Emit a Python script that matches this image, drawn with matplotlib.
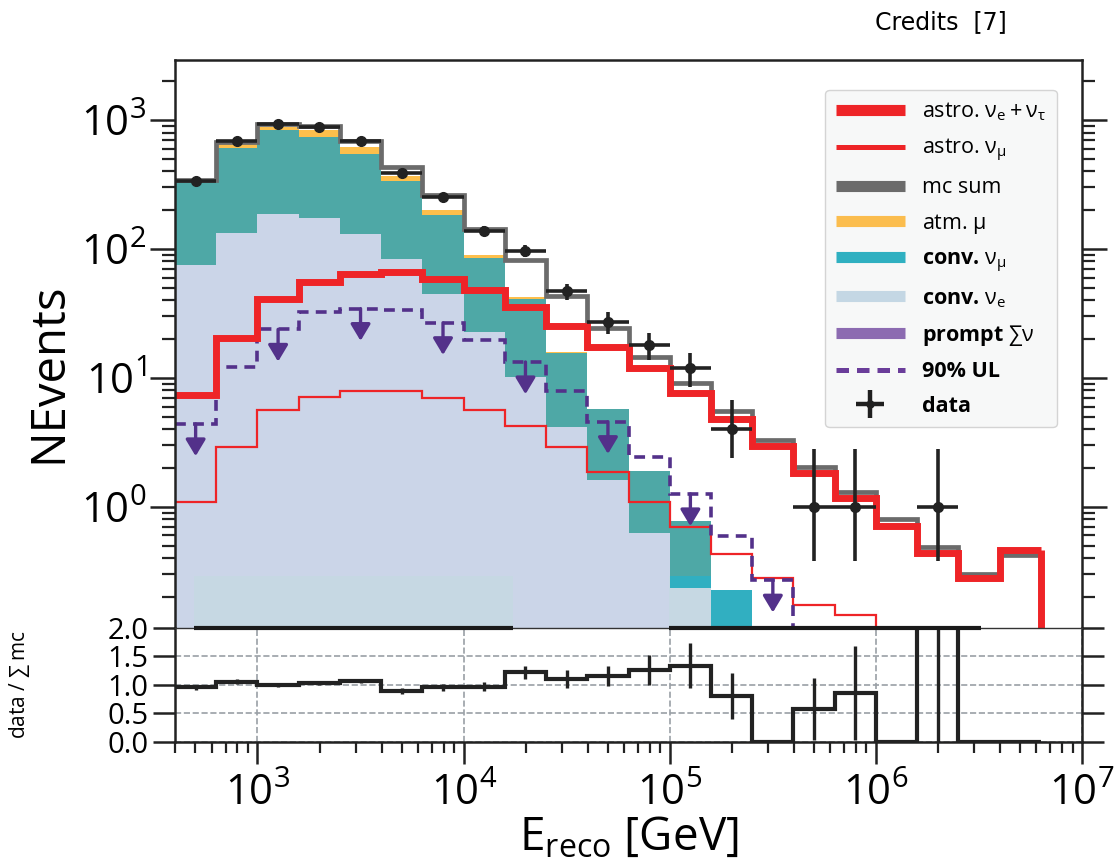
import numpy as np
import matplotlib
matplotlib.use('Agg')
import matplotlib.pyplot as plt
from matplotlib.lines import Line2D
from matplotlib.patches import Rectangle

plt.rcParams['font.family'] = ['Open Sans', 'DejaVu Sans']
plt.rcParams['mathtext.fontset'] = 'custom'
plt.rcParams['mathtext.rm'] = 'Open Sans'
plt.rcParams['mathtext.it'] = 'Open Sans:italic'
plt.rcParams['mathtext.bf'] = 'Open Sans:bold'

# log10 of the reconstructed-energy bin edges (GeV)
log_edges = np.array([2.6, 2.8, 3.0, 3.2, 3.4, 3.6, 3.8, 4.0, 4.2, 4.4, 4.6,
                      4.8, 5.0, 5.2, 5.4, 5.6, 5.8, 6.0, 6.2, 6.4, 6.6, 6.8])

# per-bin expectations
conv_nue = [75, 134, 186, 173, 130, 83, 45, 22.6, 10.2, 4.15, 1.62, 0.63, 0.234,
            0, 0, 0, 0, 0, 0, 0, 0]
conv_numu = [260, 469, 650, 569, 412, 256, 138, 62, 30.5, 11.5, 4.1, 1.28, 0.54,
             0.227, 0, 0, 0, 0, 0, 0, 0]
atm_mu = [2, 49, 51, 94, 72, 29, 17, 5.3, 1.5, 0.3, 0, 0, 0, 0, 0, 0, 0, 0, 0, 0, 0]
astro_cascade = [7.4, 20.3, 40.7, 55.8, 64, 66, 58, 48.5, 35.7, 25.3, 17.5, 11.9,
                 7.6, 4.8, 2.95, 1.82, 1.17, 0.71, 0.44, 0.28, 0.46]
astro_track = [1.1, 2.93, 5.65, 7.16, 7.93, 7.85, 7.03, 5.65, 4.27, 2.9, 1.88, 1.1,
               0.70, 0.43, 0.28, 0.173, 0.146, 0, 0, 0, 0]
mc_sum = [340, 680, 935, 893, 688, 430, 262, 142, 82, 43, 24.3, 14.6, 9.1, 5.5,
          3.3, 2.02, 1.31, 0.81, 0.49, 0.30, 0.42]
prompt_ul = [4.4, 12.2, 23.8, 32.3, 34.5, 33.7, 26.8, 19.7, 13.3, 7.97, 4.58, 2.45,
             1.26, 0.59, 0.27, 0, 0, 0, 0, 0, 0]
ul_arrow_bins = [0, 2, 4, 6, 8, 10, 12, 14]

# observed events
data_counts = [339, 692, 926, 887, 692, 386, 254, 138, 97, 47, 27, 18, 12, 4, 0,
               1, 1, 0, 1, 0, 0]
data_err_lo = [18, 26, 30, 30, 26, 20, 16, 12, 10, 6.9, 5.2, 4.3, 3.5, 1.6, 0,
               0.62, 0.62, 0, 0.62, 0, 0]
data_err_hi = [18, 26, 30, 30, 26, 20, 16, 12, 10, 6.9, 5.2, 4.3, 3.5, 2.8, 0,
               1.8, 1.8, 0, 1.8, 0, 0]

# data / mc ratio
ratio = [0.96, 1.06, 1.0, 1.03, 1.07, 0.89, 0.96, 0.97, 1.22, 1.10, 1.16, 1.26,
         1.34, 0.81, 0, 0.58, 0.86, 0, 2.04, 0, 0]
ratio_err_lo = [0.04, 0.04, 0.03, 0.035, 0.04, 0.05, 0.06, 0.08, 0.12, 0.16, 0.17,
                0.26, 0.40, 0.40, 0, 0.55, 0.83, 0, 2.04, 0, 0]
ratio_err_hi = [0.04, 0.04, 0.03, 0.035, 0.04, 0.05, 0.06, 0.08, 0.12, 0.16, 0.17,
                0.26, 0.40, 0.40, 0, 0.54, 0.83, 0, 3.0, 0, 0]

# washed-out strips along the bottom of the upper panel (log10 E ranges)
strip_spans = [(2.69, 4.24), (4.995, 6.51)]
strip_top = 0.29

y_bottom, y_top = 0.115, 2920

edges = 10 ** log_edges
centers = 10 ** (0.5 * (log_edges[:-1] + log_edges[1:]))
conv_nue = np.array(conv_nue)
numu_top = conv_nue + np.array(conv_numu)
mu_top = numu_top + np.array(atm_mu)
data = np.array(data_counts, dtype=float)
has_data = data > 0

c_nue = '#cbd5e8'
c_numu = '#4ea8a6'
c_mu = '#fdbf4c'
c_red = '#ee2427'
c_gray = '#6b6b6b'
c_ul = '#53318a'
c_black = '#222222'

fig = plt.figure(figsize=(11.19, 8.65), dpi=100)
ax = fig.add_axes([0.1564, 0.274, 0.8106, 0.6566])
axr = fig.add_axes([0.1564, 0.1422, 0.8106, 0.1318], sharex=ax)

# stacked backgrounds
ax.stairs(conv_nue, edges, baseline=0, fill=True, color=c_nue, lw=0, zorder=1)
ax.stairs(numu_top, edges, baseline=conv_nue, fill=True, color=c_numu, lw=0, zorder=1)
ax.stairs(mu_top, edges, baseline=numu_top, fill=True, color=c_mu, lw=0, zorder=1)

for lo, hi in strip_spans:
    for top, base, col in [(conv_nue, 0, '#c6d8e3'), (numu_top, conv_nue, '#31afc1')]:
        clip = Rectangle((10 ** lo, y_bottom), 10 ** hi - 10 ** lo, strip_top - y_bottom,
                         transform=ax.transData)
        s = ax.stairs(top, edges, baseline=base, fill=True, color=col, lw=0, zorder=1.5)
        s.set_clip_path(clip)
    axr.hlines(2.0, 10 ** lo, 10 ** hi, color='#1a1a1a', lw=3, zorder=6, clip_on=False)

ax.stairs(astro_track, edges, baseline=None, color=c_red, lw=1.6, zorder=3)
ax.stairs(prompt_ul, edges, baseline=None, color=c_ul, lw=2.6, ls=(0, (3, 2)), zorder=3)
for i in ul_arrow_bins:
    ax.annotate('', xy=(centers[i], prompt_ul[i] * 10 ** -0.25),
                xytext=(centers[i], prompt_ul[i]),
                arrowprops=dict(arrowstyle='-|>,head_length=0.5,head_width=0.3',
                                color=c_ul, lw=2.4, mutation_scale=20,
                                shrinkA=0, shrinkB=0), zorder=3)
ax.stairs(mc_sum, edges, baseline=None, color=c_gray, lw=3.4, zorder=4)
ax.stairs(astro_cascade, edges, baseline=None, color=c_red, lw=5, zorder=5)
# closing edge of the last cascade bin
ax.vlines(edges[-1], y_bottom / 2, astro_cascade[-1], color=c_red, lw=5, zorder=5)

ax.errorbar(centers[has_data], data[has_data],
            xerr=[centers[has_data] - edges[:-1][has_data],
                  edges[1:][has_data] - centers[has_data]],
            yerr=[np.array(data_err_lo)[has_data], np.array(data_err_hi)[has_data]],
            fmt='o', color=c_black, ms=7, lw=3, elinewidth=2.6, capsize=0, zorder=6)

ax.set_xscale('log')
ax.set_yscale('log')
ax.set_xlim(10 ** 2.6, 1e7)
ax.set_ylim(y_bottom, y_top)
ax.set_ylabel('NEvents', fontsize=34)
ax.yaxis.set_label_coords(-0.113, 0.45)
ax.tick_params(axis='y', which='both', direction='out', left=True, right=True,
               labelsize=30, color=c_black, pad=3)
ax.tick_params(axis='y', which='major', length=18, width=1.8)
ax.tick_params(axis='y', which='minor', length=9.5, width=1.6)
ax.tick_params(axis='x', which='both', bottom=False, top=False, labelbottom=False)
for side in ['left', 'right', 'top']:
    ax.spines[side].set_linewidth(1.8)
    ax.spines[side].set_color(c_black)
    ax.spines[side].set_zorder(8)
ax.spines['bottom'].set_visible(False)

# ratio panel
axr.stairs(ratio, edges, baseline=None, color=c_black, lw=3, zorder=4)
axr.errorbar(centers[has_data], np.array(ratio)[has_data],
             yerr=[np.array(ratio_err_lo)[has_data], np.array(ratio_err_hi)[has_data]],
             fmt='none', ecolor=c_black, elinewidth=2.4, capsize=0, zorder=4)
axr.set_ylim(0, 2)
axr.set_yticks([0, 0.5, 1.0, 1.5, 2.0])
axr.set_yticklabels(['0.0', '0.5', '1.0', '1.5', '2.0'])
axr.grid(True, which='major', ls='--', color='#9aa0a6', lw=1.2)
axr.tick_params(axis='y', which='major', direction='out', left=True, right=True,
                length=16, width=1.8, labelsize=21, color=c_black, pad=3)
axr.tick_params(axis='x', which='major', direction='out', length=16, width=1.8,
                labelsize=30, color=c_black, pad=6)
axr.tick_params(axis='x', which='minor', direction='out', length=8, width=1.6,
                color=c_black)
for side in ['left', 'right', 'bottom']:
    axr.spines[side].set_linewidth(1.8)
    axr.spines[side].set_color(c_black)
axr.spines['top'].set_linewidth(1.0)
axr.spines['top'].set_color('#333333')
axr.set_xlabel(r'E$_\mathrm{reco}$ [GeV]', fontsize=33, labelpad=0)
axr.set_ylabel(r'data / $\sum\,$mc', fontsize=15)
axr.yaxis.set_label_coords(-0.158, 0.5)

handles = [
    Line2D([], [], color=c_red, lw=8, solid_capstyle='butt'),
    Line2D([], [], color=c_red, lw=3.6, solid_capstyle='butt'),
    Line2D([], [], color=c_gray, lw=8, solid_capstyle='butt'),
    Line2D([], [], color='#fbbd4e', lw=8, solid_capstyle='butt'),
    Line2D([], [], color='#2fb0c1', lw=8, solid_capstyle='butt'),
    Line2D([], [], color='#c4d7e4', lw=8, solid_capstyle='butt'),
    Line2D([], [], color='#8c6bb1', lw=8, solid_capstyle='butt'),
    Line2D([], [], color='#6a3d9a', lw=3.6, ls=(0, (2.5, 1.6))),
    (Line2D([], [], color='#1f1f1f', marker='+', ms=20, mew=3.2, ls='none'),
     Line2D([], [], color='#1f1f1f', marker='o', ms=5, ls='none')),
]
labels = [r'astro. $\mathrm{\nu_e + \nu_\tau}$', r'astro. $\mathrm{\nu_\mu}$',
          'mc sum', r'atm. $\mathrm{\mu}$', r'conv. $\mathrm{\nu_\mu}$',
          r'conv. $\mathrm{\nu_e}$', r'prompt $\sum\mathrm{\nu}$', '90% UL', 'data']
leg = ax.legend(handles, labels, loc='upper right', bbox_to_anchor=(0.984, 0.966),
                fontsize=15.5, frameon=True, fancybox=True, framealpha=1,
                facecolor='#f7f8f8', edgecolor='#d4d4d4', handlelength=3.2,
                handletextpad=0.8, labelspacing=0.62, borderpad=0.5)
leg.set_zorder(10)
for t in leg.get_texts()[4:]:
    t.set_fontweight('bold')

fig.text(875 / 1119, 1 - 22 / 865, 'Credits  [7]', fontsize=17,
         family='DejaVu Sans', ha='left', va='center')

fig.savefig('out.png', dpi=100)
